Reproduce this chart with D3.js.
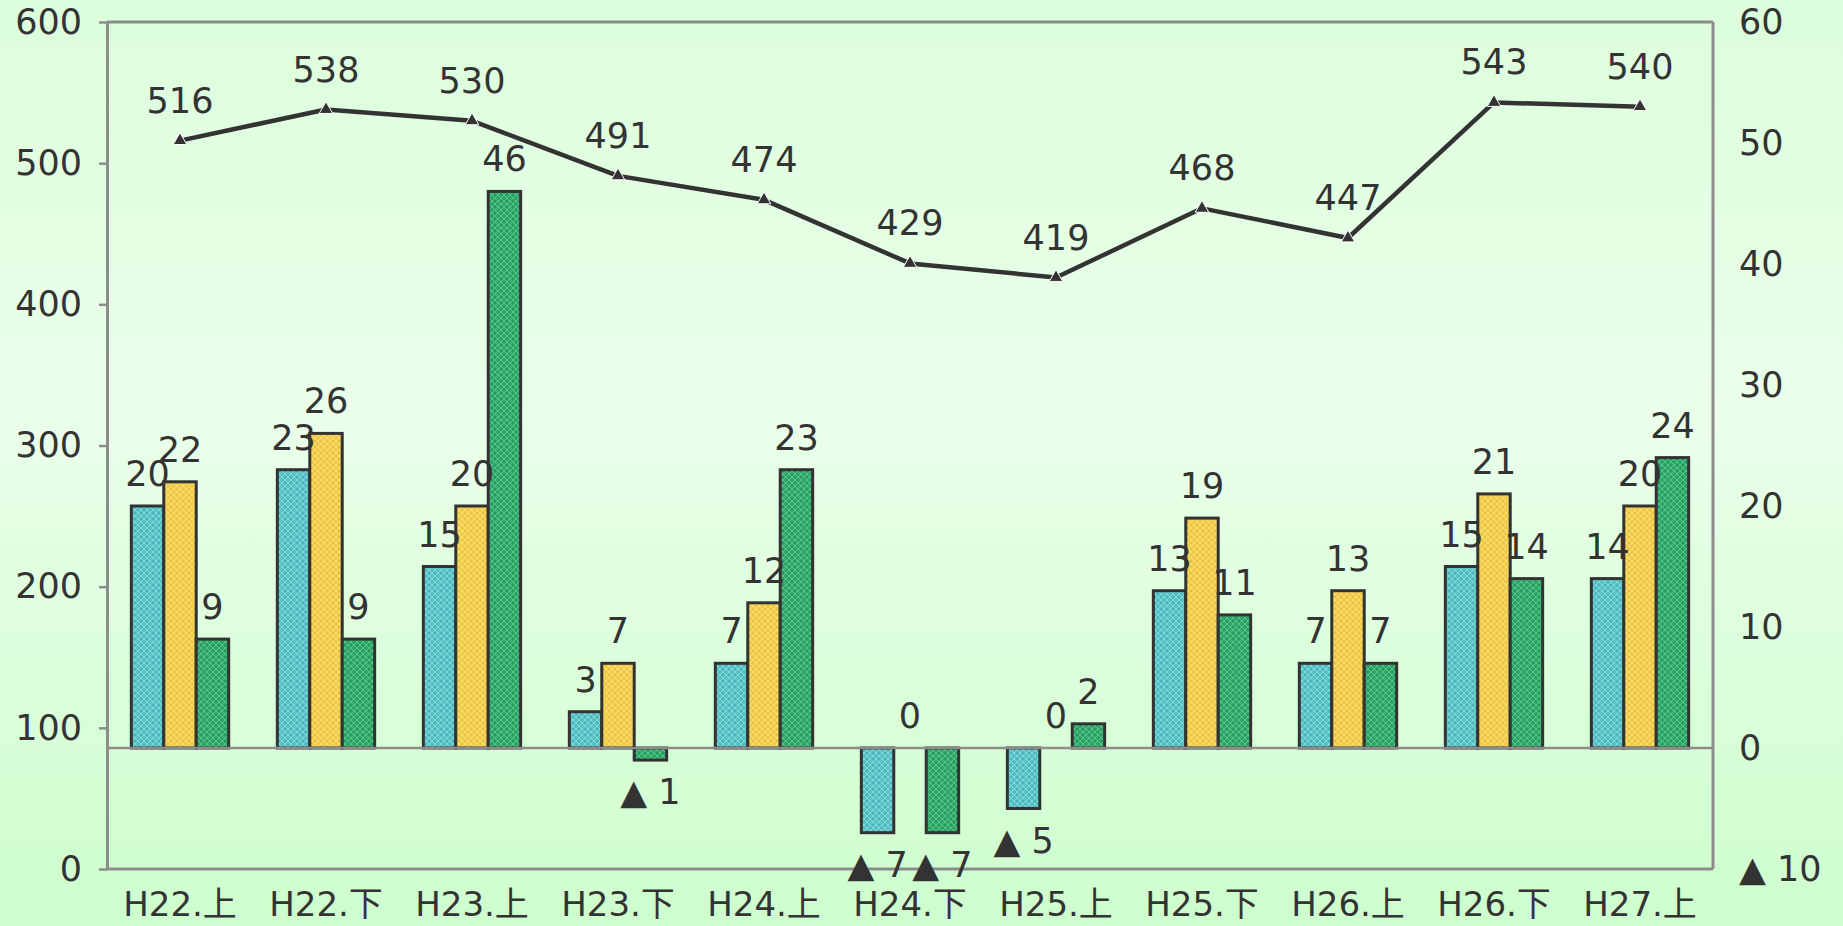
<!DOCTYPE html>
<html>
<head>
<meta charset="utf-8">
<script src="https://cdn.jsdelivr.net/npm/d3@7"></script>
<style>
  html, body { margin: 0; padding: 0; overflow: hidden; }
  svg { display: block; }
</style>
</head>
<body>
<svg id="chart" width="1843" height="926"></svg>
<script>
// ---- data ----
const categories = ["H22.上","H22.下","H23.上","H23.下","H24.上","H24.下","H25.上","H25.下","H26.上","H26.下","H27.上"];
const lineValues = [516, 538, 530, 491, 474, 429, 419, 468, 447, 543, 540];
const seriesA = [20, 23, 15, 3, 7, -7, -5, 13, 7, 15, 14];
const seriesB = [22, 26, 20, 7, 12, 0, 0, 19, 13, 21, 20];
const seriesC = [9, 9, 46, -1, 23, -7, 2, 11, 7, 14, 24];
const leftTicks = [0, 100, 200, 300, 400, 500, 600];
const rightTicks = [-10, 0, 10, 20, 30, 40, 50, 60];

const W = 1843, H = 926;
const plot = { left: 107, right: 1713, top: 22, bottom: 869 };
const FONT = "'DejaVu Sans', 'Noto Sans CJK JP', sans-serif";
const FS = 35;
const TXT = "#333333";
const AXC = "#8c8c8c";

const svg = d3.select("#chart");
const defs = svg.append("defs");

// background gradient
const bg = defs.append("linearGradient").attr("id", "bg").attr("x1", 0).attr("y1", 0).attr("x2", 0).attr("y2", 1);
[["0%", "#dcfedc"], ["45%", "#eaffea"], ["100%", "#cdfecd"]].forEach(([o, c]) =>
  bg.append("stop").attr("offset", o).attr("stop-color", c));
svg.append("rect").attr("width", W).attr("height", H).attr("fill", "url(#bg)");

// bar patterns
function makePattern(id, base, light, dark) {
  const p = defs.append("pattern").attr("id", id).attr("patternUnits", "userSpaceOnUse")
    .attr("width", 6).attr("height", 6);
  p.append("rect").attr("width", 6).attr("height", 6).attr("fill", base);
  p.append("path").attr("d", "M3,0 L6,3 L3,6 L0,3 Z").attr("fill", "none")
    .attr("stroke", light).attr("stroke-width", 1);
  p.append("rect").attr("x", 2.5).attr("y", 2.5).attr("width", 1).attr("height", 1).attr("fill", dark);
}
makePattern("patA", "#52bec2", "#82d8da", "#3a9ea4");
makePattern("patB", "#f0ca44", "#f8de76", "#dcac3c");
makePattern("patC", "#2aa466", "#58c486", "#18864e");

const series = [
  { key: "A", values: seriesA, fill: "url(#patA)" },
  { key: "B", values: seriesB, fill: "url(#patB)" },
  { key: "C", values: seriesC, fill: "url(#patC)" }
];

// scales
const x = d3.scaleBand().domain(categories).range([plot.left, plot.right])
  .paddingInner(1 / 3).paddingOuter(1 / 6);
const xs = d3.scaleBand().domain(series.map(s => s.key)).range([0, x.bandwidth()]);
const yL = d3.scaleLinear().domain([0, 600]).range([plot.bottom, plot.top]);
const yR = d3.scaleLinear().domain([-10, 60]).range([plot.bottom, plot.top]);

const fmt = v => v < 0 ? "▲ " + Math.abs(v) : String(v);

// bars
const barG = svg.append("g");
series.forEach(s => {
  barG.selectAll(null).data(s.values.map((v, i) => ({ v, c: categories[i] })).filter(d => d.v !== 0))
    .enter().append("rect")
    .attr("x", d => x(d.c) + xs(s.key))
    .attr("width", xs.bandwidth())
    .attr("y", d => Math.min(yR(d.v), yR(0)))
    .attr("height", d => Math.abs(yR(d.v) - yR(0)))
    .attr("fill", s.fill)
    .attr("stroke", "#333333")
    .attr("stroke-width", 3);
});

// plot frame
const frame = svg.append("g").attr("fill", "none").attr("stroke", AXC).attr("stroke-width", 3);
frame.append("line").attr("x1", plot.left).attr("x2", plot.right).attr("y1", plot.top).attr("y2", plot.top);
frame.append("line").attr("x1", plot.right).attr("x2", plot.right).attr("y1", plot.top).attr("y2", plot.bottom);
frame.append("line").attr("x1", plot.left).attr("x2", plot.right).attr("y1", plot.bottom).attr("y2", plot.bottom);
// zero line of right axis
svg.append("line").attr("x1", plot.left).attr("x2", plot.right)
  .attr("y1", yR(0)).attr("y2", yR(0)).attr("stroke", AXC).attr("stroke-width", 2.5);

// axes
function styleAxis(g) {
  g.selectAll("text").attr("font-family", FONT).attr("font-size", FS).attr("fill", TXT);
  g.selectAll(".tick line").attr("stroke", AXC).attr("stroke-width", 2.5);
  g.select(".domain").attr("stroke", AXC).attr("stroke-width", 3);
}
const axL = svg.append("g").attr("transform", `translate(${plot.left},0)`)
  .call(d3.axisLeft(yL).tickValues(leftTicks).tickSize(8).tickPadding(17).tickSizeOuter(0));
styleAxis(axL);
const axR = svg.append("g").attr("transform", `translate(${plot.right},0)`)
  .call(d3.axisRight(yR).tickValues(rightTicks).tickSize(0).tickPadding(26).tickFormat(fmt));
styleAxis(axR);
axR.select(".domain").remove();
const axB = svg.append("g").attr("transform", `translate(0,${plot.bottom})`)
  .call(d3.axisBottom(x).tickSize(0).tickPadding(23));
styleAxis(axB);
axB.selectAll("text").attr("font-size", 34);
axB.select(".domain").remove();

// bar labels
const labG = svg.append("g").attr("font-family", FONT).attr("font-size", FS).attr("fill", TXT)
  .attr("text-anchor", "middle");
series.forEach(s => {
  labG.selectAll(null).data(s.values.map((v, i) => ({ v, c: categories[i] })))
    .enter().append("text")
    .attr("x", d => x(d.c) + xs(s.key) + xs.bandwidth() / 2)
    .attr("y", d => d.v < 0 ? yR(d.v) + 44 : yR(d.v) - 20)
    .text(d => fmt(d.v));
});

// line
const lineData = lineValues.map((v, i) => ({ v, c: categories[i] }));
const cx = d => x(d.c) + x.bandwidth() / 2;
svg.append("path").datum(lineData)
  .attr("fill", "none").attr("stroke", "#333333").attr("stroke-width", 4.5)
  .attr("stroke-linejoin", "round")
  .attr("d", d3.line().x(cx).y(d => yL(d.v)));
svg.append("g").selectAll("path").data(lineData).enter().append("path")
  .attr("transform", d => `translate(${cx(d)},${yL(d.v)})`)
  .attr("d", d3.symbol(d3.symbolTriangle, 80))
  .attr("fill", "#333333").attr("stroke", "#ffffff").attr("stroke-width", 1);
labG.selectAll(null).data(lineData).enter().append("text")
  .attr("x", cx).attr("y", d => yL(d.v) - 28).text(d => d.v);
</script>
</body>
</html>
